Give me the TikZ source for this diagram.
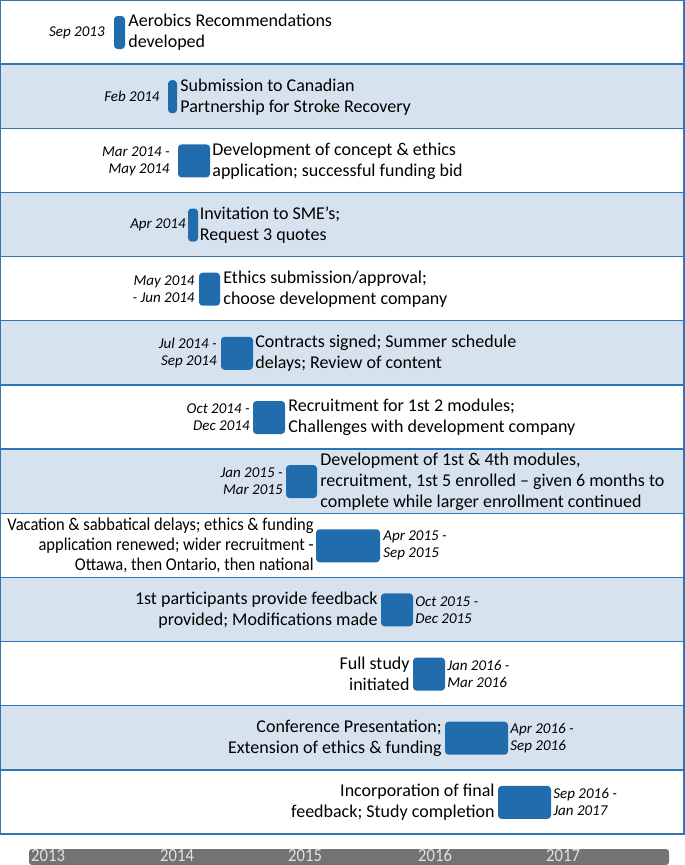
\documentclass[tikz,border=0pt]{standalone}
\usepackage{fontspec}
\setmainfont{Carlito}
\newfontfamily\condfont[FakeStretch=0.915]{Carlito}
\newfontfamily\yearfont[FakeStretch=0.9]{Carlito}
\usetikzlibrary{positioning}
\definecolor{rowblue}{RGB}{214,227,239}
\definecolor{lineblue}{RGB}{46,117,182}
\definecolor{barblue}{RGB}{33,108,173}
\definecolor{axisgray}{RGB}{115,115,115}
\definecolor{yeargray}{RGB}{225,225,225}
\tikzset{
  bar/.style={fill=barblue,draw=none,rounded corners=3.5pt,minimum height=33pt,inner sep=0pt},
  evt/.style={font=\fontsize{18}{21}\selectfont,inner sep=0pt,align=left},
  evtr/.style={font=\fontsize{18}{21}\selectfont,inner sep=0pt,align=right},
  dt/.style={font=\fontsize{15}{17}\selectfont\itshape,inner sep=0pt,align=right},
  dtl/.style={font=\fontsize{15}{17}\selectfont\itshape,inner sep=0pt,align=left},
  yr/.style={font=\yearfont\fontsize{18.5}{19}\selectfont,text=yeargray,inner sep=0pt,anchor=base west},
  sep/.style={draw=lineblue,line width=1.4pt}
}
\begin{document}
\begin{tikzpicture}[x=1pt,y=-1pt]
\useasboundingbox (0,0) rectangle (685,865);
\def\rh{64.15}
% row backgrounds
\foreach \i in {1,3,5,7,9,11}{
  \fill[rowblue] (0,\i*\rh) rectangle (684,\i*\rh+\rh);
}
\foreach \i in {1,...,12}{
  \draw[sep] (0,\i*\rh) -- (684,\i*\rh);
}
\draw[sep] (0.7,0.7) rectangle (684,834);
% bars
\node[bar,minimum width=11pt] (b1) at (119.5,32.5) {};
\node[bar,minimum width=9pt] (b2) at (172.5,96.7) {};
\node[bar,minimum width=32pt] (b3) at (194,160.9) {};
\node[bar,minimum width=10pt] (b4) at (193,225) {};
\node[bar,minimum width=21pt] (b5) at (209.5,289.2) {};
\node[bar,minimum width=32pt] (b6) at (237,353.3) {};
\node[bar,minimum width=32pt] (b7) at (269,417.5) {};
\node[bar,minimum width=31pt] (b8) at (301.5,481.6) {};
\node[bar,minimum width=64pt] (b9) at (348,545.8) {};
\node[bar,minimum width=32pt] (b10) at (397,609.9) {};
\node[bar,minimum width=32pt] (b11) at (429,674.1) {};
\node[bar,minimum width=63pt] (b12) at (476.5,738.2) {};
\node[bar,minimum width=53pt] (b13) at (524.5,802.4) {};
% event texts
\node[evt,right=3pt of b1] (t1) {Aerobics Recommendations\\developed};
\node[evt,right=3pt of b2] (t2) {Submission to Canadian\\Partnership for Stroke Recovery};
\node[evt,right=2pt of b3] (t3) {Development of concept \& ethics\\application; successful funding bid};
\node[evt,right=1.5pt of b4] (t4) {Invitation to SME’s;\\Request 3 quotes};
\node[evt,right=3pt of b5] (t5) {Ethics submission/approval;\\choose development company};
\node[evt,right=2pt of b6] (t6) {Contracts signed; Summer schedule\\delays; Review of content};
\node[evt,right=3pt of b7] (t7) {Recruitment for 1st 2 modules;\\Challenges with development company};
\node[evt,right=3pt of b8] (t8) {Development of 1st \& 4th modules,\\recruitment, 1st 5 enrolled – given 6 months to\\complete while larger enrollment continued};
\node[evtr,font=\condfont\fontsize{18}{20}\selectfont,left=2pt of b9] (t9) {Vacation \& sabbatical delays; ethics \& funding\\application renewed; wider recruitment -\\Ottawa, then Ontario, then national};
\node[evtr,left=3pt of b10] (t10) {1st participants provide feedback\\provided; Modifications made};
\node[evtr,left=3pt of b11] (t11) {Full study\\initiated};
\node[evtr,left=3pt of b12] (t12) {Conference Presentation;\\Extension of ethics \& funding};
\node[evtr,left=3pt of b13] (t13) {Incorporation of final\\feedback; Study completion};
% dates
\node[dt,left=9pt of b1] (d1) {Sep 2013};
\node[dt,left=8pt of b2] (d2) {Feb 2014};
\node[dt,left=8pt of b3] (d3) {Mar 2014 -\\May 2014};
\node[dt,left=2pt of b4] (d4) {Apr 2014};
\node[dt,left=4pt of b5] (d5) {May 2014\\- Jun 2014};
\node[dt,left=4pt of b6] (d6) {Jul 2014 -\\Sep 2014};
\node[dt,left=3pt of b7] (d7) {Oct 2014 -\\Dec 2014};
\node[dt,left=3pt of b8] (d8) {Jan 2015 -\\Mar 2015};
\node[dtl,right=3pt of b9] (d9) {Apr 2015 -\\Sep 2015};
\node[dtl,right=2pt of b10] (d10) {Oct 2015 -\\Dec 2015};
\node[dtl,right=2pt of b11] (d11) {Jan 2016 -\\Mar 2016};
\node[dtl,right=2pt of b12] (d12) {Apr 2016 -\\Sep 2016};
\node[dtl,right=2pt of b13] (d13) {Sep 2016 -\\Jan 2017};
% time axis
\fill[axisgray,rounded corners=3pt] (29,849) rectangle (669,865);
\node[yr] (y13) at (31,861.5) {2013};
\node[yr] (y14) at (160,861.5) {2014};
\node[yr] (y15) at (288,861.5) {2015};
\node[yr] (y16) at (418,861.5) {2016};
\node[yr] (y17) at (546,861.5) {2017};
\end{tikzpicture}
\end{document}
